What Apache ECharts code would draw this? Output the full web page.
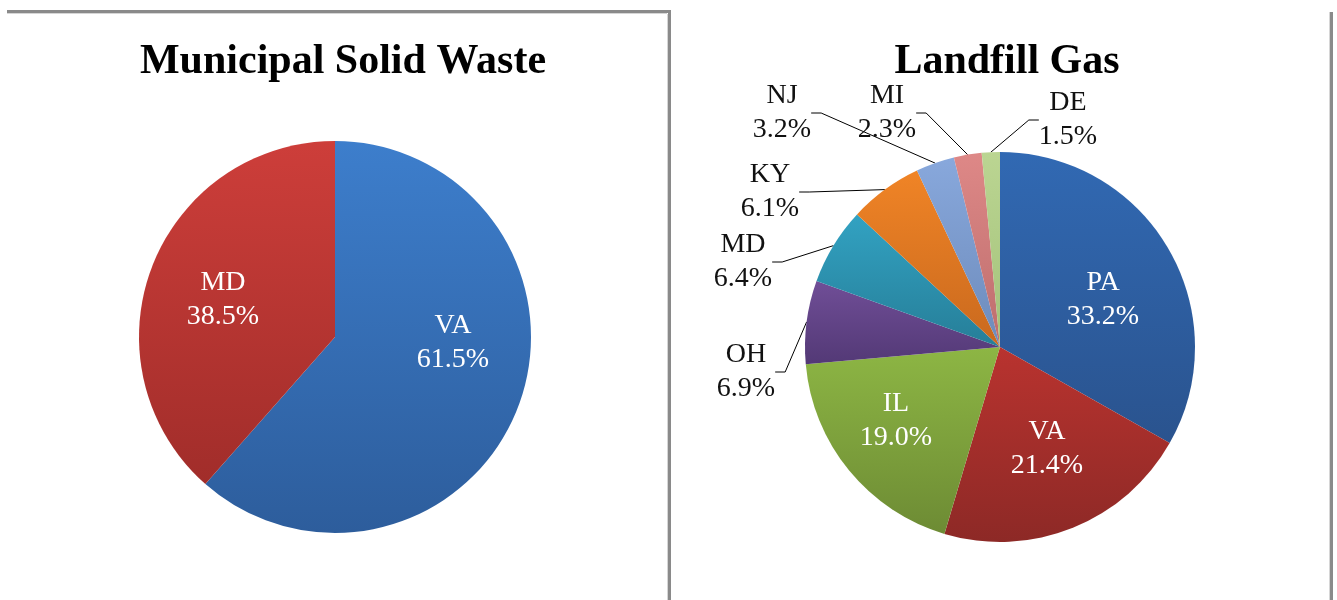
<!DOCTYPE html>
<html><head><meta charset="utf-8">
<script src="https://cdn.jsdelivr.net/npm/echarts@6/dist/echarts.min.js"></script>
<style>html,body{margin:0;padding:0;background:#fff}#c{width:1337px;height:600px}</style>
</head><body><div id="c"></div>
<script>
// ---- data ----
const mswTitle = 'Municipal Solid Waste';
const mswCategories = ['VA', 'MD'];
const mswValues = [61.5, 38.5];

const lfgTitle = 'Landfill Gas';
const lfgCategories = ['PA', 'VA', 'IL', 'OH', 'MD', 'KY', 'NJ', 'MI', 'DE'];
const lfgValues = [33.2, 21.4, 19.0, 6.9, 6.4, 6.1, 3.2, 2.3, 1.5];

// ---- styles ----
const mswColors = [['#3d7ecc', '#2d5d9c'], ['#cd3e3a', '#a12d2a']];
const lfgColors = [
  ['#3169b3', '#2a538e'], ['#b9332f', '#8d2926'], ['#8db644', '#6d8b34'],
  ['#704e97', '#533976'], ['#32a2c2', '#267e98'], ['#f08426', '#c9691e'],
  ['#88a8dc', '#6d8bbb'], ['#de8887', '#bd6e6d'], ['#bbd592', '#a3c27a']
];
const FONT = '"Liberation Serif", "Times New Roman", serif';
const LABEL_SIZE = 28;

// manual label placement, as in the original chart (label block centres)
const mswLabelPos = { VA: [453, 343], MD: [223, 300] };
const lfgLabelPos = {
  PA: [1103, 300], VA: [1047, 449], IL: [896, 421],
  OH: [746, 372], MD: [743, 262], KY: [770, 192], NJ: [782, 113], MI: [887, 113], DE: [1068, 120]
};

function grad(c) {
  return new echarts.graphic.LinearGradient(0, 0, 0, 1, [{ offset: 0, color: c[0] }, { offset: 1, color: c[1] }]);
}
function fmt(p) { return p.name + '\n' + p.value.toFixed(1) + '%'; }

const chart = echarts.init(document.getElementById('c'), null, { renderer: 'canvas' });

const mswData = mswCategories.map((n, i) => ({ name: n, value: mswValues[i], itemStyle: { color: grad(mswColors[i]) } }));
const lfgData = lfgCategories.map((n, i) => {
  const outside = lfgValues[i] < 10;
  return {
    name: n, value: lfgValues[i], itemStyle: { color: grad(lfgColors[i]) },
    label: outside ? { position: 'outside', color: '#111' } : { position: 'inside', color: '#fff' },
    labelLine: { show: outside }
  };
});

const centers = [[335, 337], [1000, 347]];

function layoutFor(cats, posMap) {
  return function (params) {
    const p = posMap[cats[params.dataIndex]];
    return { x: p[0], y: p[1], align: 'center', verticalAlign: 'middle' };
  };
}

const commonLabel = {
  formatter: fmt, fontFamily: FONT, fontSize: LABEL_SIZE, lineHeight: 34, align: 'center'
};
const titleStyle = { fontFamily: FONT, fontWeight: 'bold', fontSize: 42, color: '#000' };

chart.setOption({
  backgroundColor: '#ffffff',
  animation: false,
  title: [
    { text: mswTitle, left: 338, top: 36, textAlign: 'center', textStyle: titleStyle },
    { text: lfgTitle, left: 1002, top: 36, textAlign: 'center', textStyle: titleStyle }
  ],
  graphic: [
    { type: 'rect', shape: { x: 7, y: 10, width: 662, height: 3 }, style: { fill: '#8a8a8a' }, silent: true },
    { type: 'rect', shape: { x: 7, y: 13, width: 660, height: 1 }, style: { fill: '#d6d6d6' }, silent: true },
    { type: 'rect', shape: { x: 668, y: 10, width: 3, height: 590 }, style: { fill: '#8a8a8a' }, silent: true },
    { type: 'rect', shape: { x: 667, y: 14, width: 1, height: 586 }, style: { fill: '#d6d6d6' }, silent: true },
    { type: 'rect', shape: { x: 1330, y: 12, width: 3, height: 588 }, style: { fill: '#8a8a8a' }, silent: true },
    { type: 'rect', shape: { x: 1329, y: 12, width: 1, height: 588 }, style: { fill: '#d6d6d6' }, silent: true }
  ],
  series: [
    {
      type: 'pie', center: centers[0], radius: [0, 196], startAngle: 90, clockwise: true,
      data: mswData, avoidLabelOverlap: false,
      label: Object.assign({ position: 'inside', color: '#fff' }, commonLabel),
      labelLine: { show: false },
      labelLayout: layoutFor(mswCategories, mswLabelPos),
      itemStyle: { borderWidth: 0 },
      emphasis: { disabled: true }
    },
    {
      type: 'pie', center: centers[1], radius: [0, 195], startAngle: 90, clockwise: true,
      data: lfgData, avoidLabelOverlap: false,
      label: commonLabel,
      labelLine: { lineStyle: { color: '#000', width: 1 }, length: 15, length2: 10 },
      labelLayout: layoutFor(lfgCategories, lfgLabelPos),
      itemStyle: { borderWidth: 0 },
      emphasis: { disabled: true }
    }
  ]
});
</script>
</body></html>
